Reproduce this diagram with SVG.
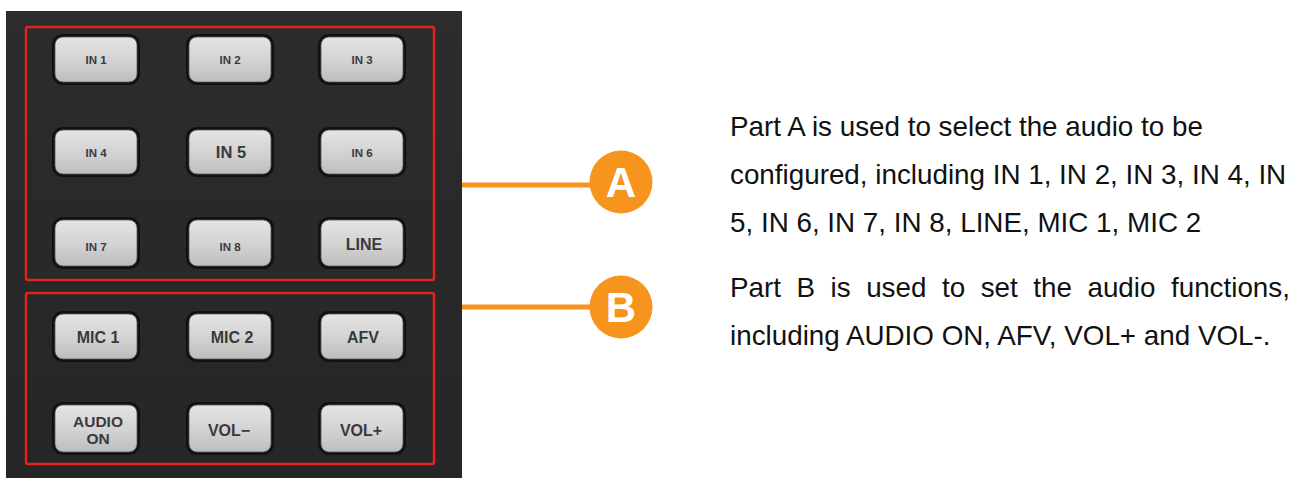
<svg xmlns="http://www.w3.org/2000/svg" width="1301" height="478" viewBox="0 0 1301 478">
  <defs>
    <linearGradient id="face" x1="0" y1="0" x2="0" y2="1">
      <stop offset="0" stop-color="#e4e4e4"/>
      <stop offset="0.55" stop-color="#d2d2d2"/>
      <stop offset="1" stop-color="#bdbdbd"/>
    </linearGradient>
    <linearGradient id="panelGrad" x1="0" y1="0" x2="0" y2="1">
      <stop offset="0" stop-color="#2c2c2c"/>
      <stop offset="1" stop-color="#262626"/>
    </linearGradient>
  </defs>
  <style>
    .btn rect.outer { fill: #111111; }
    .btn rect.inner { fill: url(#face); stroke: #5a5a5a; stroke-width: 0.8; }
    .lbl { font-family: "Liberation Sans", Arial, sans-serif; font-weight: bold; fill: #3a3a3a; text-anchor: middle; }
    .s { font-size: 11.5px; }
    .m { font-size: 16px; }
    .frame { fill: none; stroke: #e3231b; stroke-width: 2.5; }
    .conn { stroke: #f7941d; stroke-width: 5; fill: none; }
    .badge circle { fill: #f7941d; }
    .badge text { font-family: "Liberation Sans", Arial, sans-serif; font-weight: bold; font-size: 42px; fill: #ffffff; text-anchor: middle; }
    .desc { font-family: "Liberation Sans", Arial, sans-serif; font-size: 27.8px; fill: #111111; }
  </style>

  <rect id="panel" x="6" y="11" width="456" height="467" fill="url(#panelGrad)"/>

  <g id="frameA"><rect class="frame" x="26" y="27" width="408" height="253" rx="2"/></g>
  <g id="frameB"><rect class="frame" x="26" y="293" width="408" height="171" rx="2"/></g>

  <g id="btn-in1" class="btn"><rect class="outer" x="52" y="34" width="88" height="51" rx="11"/><rect class="inner" x="55" y="37" width="82" height="45" rx="8"/><text class="lbl s" x="96" y="64">IN 1</text></g>
  <g id="btn-in2" class="btn"><rect class="outer" x="186" y="34" width="88" height="51" rx="11"/><rect class="inner" x="189" y="37" width="82" height="45" rx="8"/><text class="lbl s" x="230" y="64">IN 2</text></g>
  <g id="btn-in3" class="btn"><rect class="outer" x="318" y="34" width="88" height="51" rx="11"/><rect class="inner" x="321" y="37" width="82" height="45" rx="8"/><text class="lbl s" x="362" y="64">IN 3</text></g>

  <g id="btn-in4" class="btn"><rect class="outer" x="52" y="127" width="88" height="50" rx="11"/><rect class="inner" x="55" y="130" width="82" height="44" rx="8"/><text class="lbl s" x="96" y="157">IN 4</text></g>
  <g id="btn-in5" class="btn"><rect class="outer" x="186" y="127" width="88" height="50" rx="11"/><rect class="inner" x="189" y="130" width="82" height="44" rx="8"/><text class="lbl m" x="231" y="158" style="font-size:16.5px">IN 5</text></g>
  <g id="btn-in6" class="btn"><rect class="outer" x="318" y="127" width="88" height="50" rx="11"/><rect class="inner" x="321" y="130" width="82" height="44" rx="8"/><text class="lbl s" x="362" y="157">IN 6</text></g>

  <g id="btn-in7" class="btn"><rect class="outer" x="52" y="217" width="88" height="52" rx="11"/><rect class="inner" x="55" y="220" width="82" height="46" rx="8"/><text class="lbl s" x="96" y="251">IN 7</text></g>
  <g id="btn-in8" class="btn"><rect class="outer" x="186" y="217" width="88" height="52" rx="11"/><rect class="inner" x="189" y="220" width="82" height="46" rx="8"/><text class="lbl s" x="230" y="251">IN 8</text></g>
  <g id="btn-line" class="btn"><rect class="outer" x="318" y="217" width="88" height="52" rx="11"/><rect class="inner" x="321" y="220" width="82" height="46" rx="8"/><text class="lbl m" x="364" y="250">LINE</text></g>

  <g id="btn-mic1" class="btn"><rect class="outer" x="52" y="311" width="88" height="51" rx="11"/><rect class="inner" x="55" y="314" width="82" height="45" rx="8"/><text class="lbl m" x="98" y="343">MIC 1</text></g>
  <g id="btn-mic2" class="btn"><rect class="outer" x="186" y="311" width="88" height="51" rx="11"/><rect class="inner" x="189" y="314" width="82" height="45" rx="8"/><text class="lbl m" x="232" y="343">MIC 2</text></g>
  <g id="btn-afv" class="btn"><rect class="outer" x="318" y="311" width="88" height="51" rx="11"/><rect class="inner" x="321" y="314" width="82" height="45" rx="8"/><text class="lbl m" x="363" y="343">AFV</text></g>

  <g id="btn-audio-on" class="btn"><rect class="outer" x="52" y="402" width="88" height="53" rx="11"/><rect class="inner" x="55" y="405" width="82" height="47" rx="8"/><text class="lbl m" x="98" y="427" style="font-size:15.5px">AUDIO</text><text class="lbl m" x="98" y="444" style="font-size:15.5px">ON</text></g>
  <g id="btn-vol-minus" class="btn"><rect class="outer" x="186" y="402" width="88" height="53" rx="11"/><rect class="inner" x="189" y="405" width="82" height="47" rx="8"/><text class="lbl m" x="229" y="436">VOL−</text></g>
  <g id="btn-vol-plus" class="btn"><rect class="outer" x="318" y="402" width="88" height="53" rx="11"/><rect class="inner" x="321" y="405" width="82" height="47" rx="8"/><text class="lbl m" x="361" y="436">VOL+</text></g>

  <g id="connectors">
    <line class="conn" x1="462" y1="185" x2="600" y2="185"/>
    <line class="conn" x1="462" y1="307" x2="600" y2="307"/>
  </g>

  <g id="badge-a" class="badge"><circle cx="621" cy="182" r="31.5"/><text x="621" y="197">A</text></g>
  <g id="badge-b" class="badge"><circle cx="621" cy="307" r="31.5"/><text x="621" y="322">B</text></g>

  <g id="desc-a">
    <text class="desc" x="730" y="136">Part A is used to select the audio to be</text>
    <text class="desc" x="730" y="184">configured, including IN 1, IN 2, IN 3, IN 4, IN</text>
    <text class="desc" x="730" y="232">5, IN 6, IN 7, IN 8, LINE, MIC 1, MIC 2</text>
  </g>
  <g id="desc-b">
    <text class="desc" x="730" y="297" word-spacing="7.8">Part B is used to set the audio functions,</text>
    <text class="desc" x="730" y="345">including AUDIO ON, AFV, VOL+ and VOL-.</text>
  </g>
</svg>
